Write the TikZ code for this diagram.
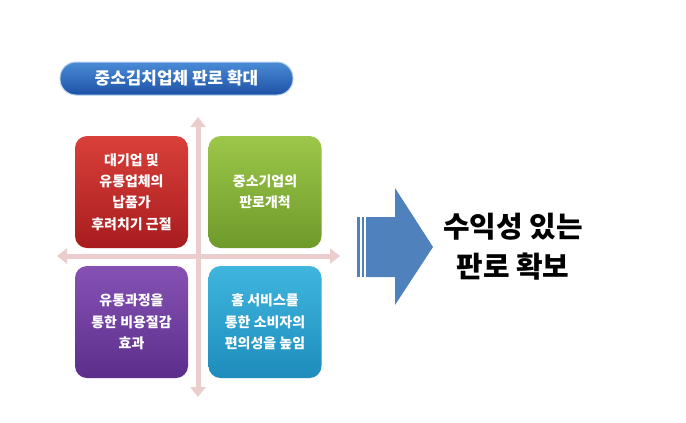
\documentclass[tikz,border=0pt]{standalone}
\usepackage{fontspec}
\newfontfamily\kr{Noto Sans CJK KR}
\usetikzlibrary{arrows.meta,positioning}
\definecolor{redtop}{HTML}{D9403A}
\definecolor{redbot}{HTML}{A81C1E}
\definecolor{greentop}{HTML}{9CC74A}
\definecolor{greenbot}{HTML}{6E9A2A}
\definecolor{purptop}{HTML}{8552B4}
\definecolor{purpbot}{HTML}{5C2E8C}
\definecolor{cyantop}{HTML}{3FB6DE}
\definecolor{cyanbot}{HTML}{1E8CBC}
\definecolor{crosspink}{HTML}{EBCDCD}
\definecolor{arrowblue}{HTML}{4F81BD}
\definecolor{bannertop}{HTML}{4A8BD6}
\definecolor{bannerbot}{HTML}{1D52A6}

\begin{document}
\begin{tikzpicture}[x=1bp,y=-1bp,
	quad/.style={rounded corners=12bp, minimum width=113bp, minimum height=112bp,
		inner sep=0pt, align=center, text=white,
		font=\kr\bfseries\fontsize{14}{21.5}\selectfont},
	axis/.style={crosspink, line width=5bp,
		{Triangle[width=15bp,length=10bp]}-{Triangle[width=15bp,length=10bp]}}]
	\useasboundingbox (0,0) rectangle (686,422);

	% title banner
	\node (banner) at (176.5,78.5) [rounded corners=16bp, minimum width=233bp, minimum height=33bp,
		top color=bannertop, bottom color=bannerbot, draw=bannertop!40, line width=1bp,
		text=white, font=\kr\bfseries\fontsize{17}{20}\selectfont] {중소김치업체 판로 확대};

	% cross behind the four boxes
	\coordinate (top) at (198,117);
	\coordinate (bottom) at (198,397);
	\coordinate (left) at (57,256);
	\coordinate (right) at (340,256);
	\draw[axis] (top) -- (bottom);
	\draw[axis] (left) -- (right);

	\node (big) at (131.5,192) [quad, top color=redtop, bottom color=redbot]
		{대기업 및\\유통업체의\\납품가\\후려치기 근절};
	\node (small) at (265,192) [quad, top color=greentop, bottom color=greenbot]
		{중소기업의\\판로개척};
	\node (cost) at (131.5,322) [quad, top color=purptop, bottom color=purpbot]
		{유통과정을\\통한 비용절감\\효과};
	\node (home) at (265,322) [quad, top color=cyantop, bottom color=cyanbot]
		{홈 서비스를\\통한 소비자의\\편의성을 높임};

	% big arrow
	\fill[arrowblue] (368,217) -- (395,217) -- (395,188) -- (433,247) -- (395,305)
		-- (395,277) -- (368,277) -- cycle;
	\foreach \s in {357,361.5,365.5} {
		\fill[arrowblue] (\s,217) rectangle ++(2.5,60);
	}

	\node (goal) at (513,247) [align=center, font=\kr\bfseries\fontsize{29}{40}\selectfont]
		{수익성 있는\\판로 확보};
\end{tikzpicture}
\end{document}
